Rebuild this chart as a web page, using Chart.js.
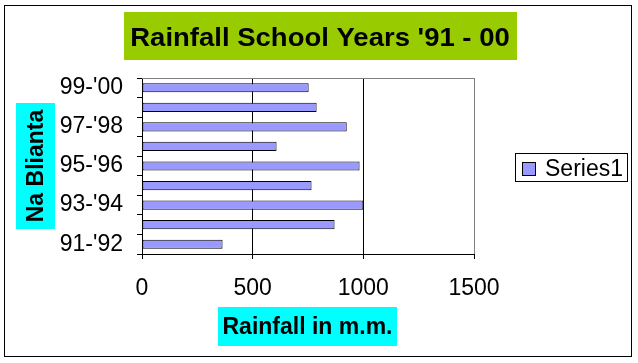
<!DOCTYPE html>
<html lang="en">
<head>
    <meta charset="UTF-8">
    <title>Rainfall School Years '91 - 00</title>
    <script src="https://cdn.jsdelivr.net/npm/chart.js"></script>
    <style>
        html, body { margin: 0; padding: 0; background: #fff; }
        #wrap { width: 638px; height: 363px; }
    </style>
</head>
<body>
    <div id="wrap"><canvas id="rainChart" width="638" height="363"></canvas></div>

    <script>
        // school years, oldest first (drawn bottom to top)
        const years = ["91-'92", "92-'93", "93-'94", "94-'95", "95-'96", "96-'97", "97-'98", "98-'99", "99-'00"];
        const rainfall = [364, 870, 1000, 766, 983, 608, 925, 789, 753];
        const xTicks = [0, 500, 1000, 1500];

        const chartTitle = "Rainfall School Years '91 - 00";
        const yTitle = 'Na Blianta';
        const xTitle = 'Rainfall in m.m.';
        const seriesName = 'Series1';

        const FONT = '"Liberation Sans", Arial, sans-serif';
        const barFill = '#9999ff';

        function box(ctx, x, y, w, h, fill) {
            ctx.fillStyle = fill;
            ctx.fillRect(x, y, w, h);
        }

        // frame, title boxes, plot border and legend
        const decorations = {
            id: 'decorations',
            beforeDraw(chart) {
                const ctx = chart.ctx;
                ctx.save();
                ctx.fillStyle = '#fff';
                ctx.fillRect(0, 0, chart.width, chart.height);
                ctx.restore();
            },
            afterDraw(chart) {
                const ctx = chart.ctx;
                const a = chart.chartArea;
                ctx.save();

                // plot area top border (gray)
                ctx.strokeStyle = '#808080';
                ctx.lineWidth = 1;
                ctx.beginPath();
                ctx.moveTo(a.left, Math.round(a.top) + 0.5);
                ctx.lineTo(a.right, Math.round(a.top) + 0.5);
                ctx.stroke();

                // outer frame
                ctx.strokeStyle = '#000';
                ctx.strokeRect(4.5, 5.5, 627, 351);

                // chart title (slightly stretched, like the original)
                box(ctx, 124, 12, 393, 48, '#99cc00');
                ctx.save();
                ctx.translate(320, 46);
                ctx.scale(1.1, 1);
                ctx.fillStyle = '#000';
                ctx.font = 'bold 25px ' + FONT;
                ctx.textAlign = 'center';
                ctx.textBaseline = 'alphabetic';
                ctx.fillText(chartTitle, 0, 0);
                ctx.restore();

                // x axis title
                box(ctx, 218, 307, 179, 39, '#00ffff');
                ctx.fillStyle = '#000';
                ctx.font = 'bold 23px ' + FONT;
                ctx.textAlign = 'center';
                ctx.textBaseline = 'alphabetic';
                ctx.fillText(xTitle, 307.5, 334);

                // y axis title
                box(ctx, 16, 103, 39, 126, '#00ffff');
                ctx.save();
                ctx.translate(42.5, 166);
                ctx.rotate(-Math.PI / 2);
                ctx.fillStyle = '#000';
                ctx.font = 'bold 23px ' + FONT;
                ctx.textAlign = 'center';
                ctx.textBaseline = 'alphabetic';
                ctx.fillText(yTitle, 0, 0);
                ctx.restore();

                // legend
                ctx.strokeStyle = '#000';
                ctx.strokeRect(515.5, 153.5, 112, 28);
                ctx.fillStyle = barFill;
                ctx.fillRect(522, 162, 14, 14);
                ctx.strokeRect(522.5, 162.5, 13, 13);
                ctx.fillStyle = '#000';
                ctx.font = '23px ' + FONT;
                ctx.textAlign = 'left';
                ctx.textBaseline = 'alphabetic';
                ctx.fillText(seriesName, 545, 176);

                ctx.restore();
            }
        };

        const ctx = document.getElementById('rainChart').getContext('2d');
        const rainChart = new Chart(ctx, {
            type: 'bar',
            data: {
                labels: years,
                datasets: [{
                    label: seriesName,
                    data: rainfall,
                    backgroundColor: barFill,
                    borderColor: '#000',
                    borderWidth: 1,
                    borderSkipped: false,
                    categoryPercentage: 1,
                    barPercentage: 0.47
                }]
            },
            options: {
                indexAxis: 'y',
                responsive: false,
                animation: false,
                layout: {
                    padding: { left: 10, top: 78, right: 164, bottom: 0 }
                },
                plugins: {
                    legend: { display: false },
                    title: { display: false },
                    tooltip: { enabled: false }
                },
                scales: {
                    x: {
                        min: 0,
                        max: 1500,
                        afterBuildTicks: s => { s.ticks = xTicks.map(v => ({ value: v })); },
                        afterFit: s => { s.height = 109; },
                        grid: {
                            color: c => (c.tick && c.tick.value === 1500 ? '#808080' : '#000'),
                            tickColor: '#000',
                            tickLength: 5,
                            lineWidth: 1
                        },
                        border: { color: '#000' },
                        ticks: {
                            color: '#000',
                            font: { family: FONT, size: 23 },
                            padding: 16,
                            maxRotation: 0,
                            callback: v => String(v)
                        }
                    },
                    y: {
                        reverse: true,
                        afterFit: s => { s.width = 132; },
                        grid: {
                            offset: true,
                            drawOnChartArea: false,
                            color: '#000',
                            tickLength: 5
                        },
                        border: { color: '#000' },
                        ticks: {
                            color: '#000',
                            autoSkip: false,
                            font: { family: FONT, size: 23 },
                            padding: 14,
                            callback: function (v, i) { return i % 2 === 0 ? this.getLabelForValue(v) : ''; }
                        }
                    }
                }
            },
            plugins: [decorations]
        });
    </script>
</body>
</html>
